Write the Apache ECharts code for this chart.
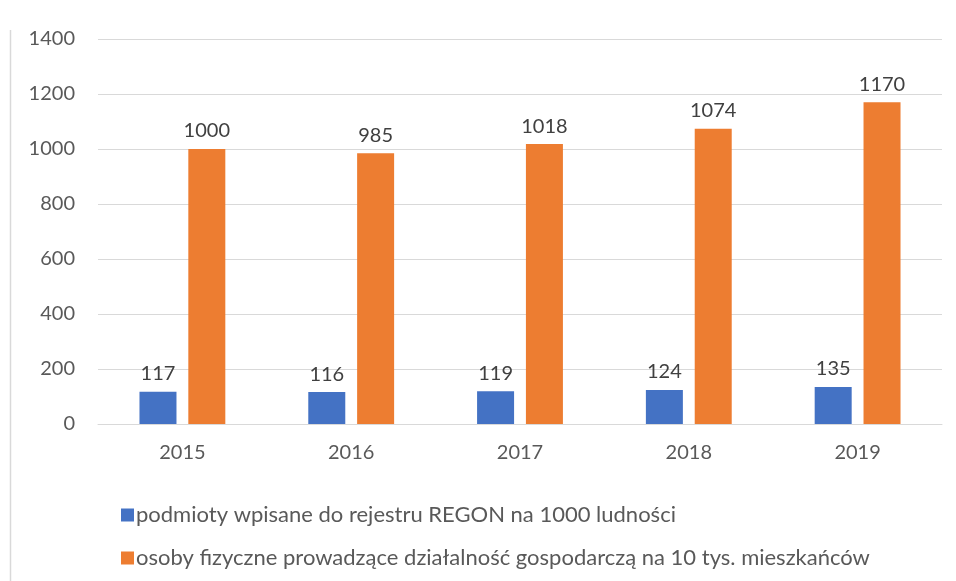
<!DOCTYPE html>
<html>
<head>
<meta charset="utf-8">
<script src="https://cdn.jsdelivr.net/npm/echarts@6/dist/echarts.min.js"></script>
<style>
  html, body { margin: 0; padding: 0; background: #fff; }
  #chart { width: 956px; height: 581px; }
</style>
</head>
<body>
<div id="chart"></div>
<script>
var years = ['2015', '2016', '2017', '2018', '2019'];
var regonPer1000 = [117, 116, 119, 124, 135];
var personsPer10k = [1000, 985, 1018, 1074, 1170];
var seriesNames = [
    'podmioty wpisane do rejestru REGON na 1000 ludności',
    'osoby fizyczne prowadzące działalność gospodarczą na 10 tys. mieszkańców'
];

var myChart = echarts.init(document.getElementById('chart'));
var font = 'Lato, "Open Sans", sans-serif';

var labelStyle = {
    show: true,
    position: 'top',
    distance: 8,
    fontSize: 20,
    color: '#404040',
    fontFamily: font
};

myChart.setOption({
    animation: false,
    textStyle: { fontFamily: font },
    grid: { left: 98, right: 14, top: 39, bottom: 157 },
    // ramka wykresu po lewej stronie
    graphic: [{
        type: 'line',
        shape: { x1: 10.5, y1: 30, x2: 10.5, y2: 581 },
        style: { stroke: '#d9d9d9', lineWidth: 1.5 }
    }],
    legend: {
        orient: 'vertical',
        left: 116,
        top: 499,
        itemGap: 21,
        itemWidth: 13,
        itemHeight: 13,
        icon: 'rect',
        textStyle: { fontSize: 22, lineHeight: 22, color: '#595959', padding: [0, 0, 0, -3] },
        data: seriesNames
    },
    xAxis: {
        type: 'category',
        data: years,
        axisLine: { lineStyle: { color: '#d9d9d9' } },
        axisTick: { show: false },
        axisLabel: { fontSize: 20, color: '#595959', margin: 19 }
    },
    yAxis: {
        type: 'value',
        min: 0,
        max: 1400,
        interval: 200,
        axisLine: { show: false },
        axisTick: { show: false },
        splitLine: { lineStyle: { color: '#d9d9d9' } },
        axisLabel: {
            fontSize: 20,
            color: '#595959',
            margin: 23,
            formatter: function (v) { return String(v); }
        }
    },
    series: [
        {
            name: seriesNames[0],
            type: 'bar',
            data: regonPer1000,
            barWidth: 37,
            barGap: '32%',
            itemStyle: { color: '#4472c4' },
            label: labelStyle
        },
        {
            name: seriesNames[1],
            type: 'bar',
            data: personsPer10k,
            barWidth: 37,
            barGap: '32%',
            itemStyle: { color: '#ed7d31' },
            label: labelStyle
        }
    ]
});
</script>
</body>
</html>
